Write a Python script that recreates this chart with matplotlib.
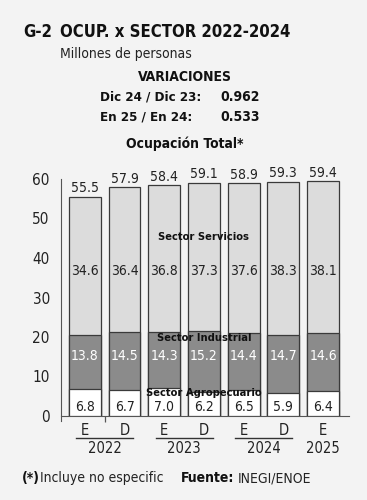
import numpy as np
import matplotlib.pyplot as plt
from matplotlib import font_manager

# Datos (millones de personas)
periodos = ['E', 'D', 'E', 'D', 'E', 'D', 'E']
anios = ['2022', '2023', '2024', '2025']
total = [55.5, 57.9, 58.4, 59.1, 58.9, 59.3, 59.4]
servicios = [34.6, 36.4, 36.8, 37.3, 37.6, 38.3, 38.1]
industrial = [13.8, 14.5, 14.3, 15.2, 14.4, 14.7, 14.6]
agro = [6.8, 6.7, 7.0, 6.2, 6.5, 5.9, 6.4]

# Fuente condensada si existe
cond = [f.name for f in font_manager.fontManager.ttflist
        if str(f.stretch) in ('condensed', 'semi-condensed', '87.5', '75')
        or 'Narrow' in f.name or 'Condensed' in f.name]
if cond:
    plt.rcParams['font.family'] = [cond[0], 'DejaVu Sans']
    plt.rcParams['font.stretch'] = 'condensed'
else:
    plt.rcParams['font.family'] = ['Roboto', 'DejaVu Sans']

bg = '#f3f3f3'
c_serv, c_ind, c_agro, c_edge = '#dcdcdc', '#8b8b8b', '#ffffff', '#3a3a3a'

fig = plt.figure(figsize=(3.67, 5.0), dpi=100)
fig.patch.set_facecolor(bg)
ax = fig.add_axes([0.166, 0.168, 0.785, 0.474])
ax.set_facecolor(bg)

x = np.arange(len(total))
w = 0.8
ind_top = np.array(agro) + np.array(industrial)
ax.bar(x, total, w, color=c_serv, edgecolor=c_edge, linewidth=0.9, zorder=2)
ax.bar(x, ind_top, w, color=c_ind, edgecolor=c_edge, linewidth=0.9, zorder=3)
ax.bar(x, agro, w, color=c_agro, edgecolor=c_edge, linewidth=0.9, zorder=4)

for i in x:
    ax.text(i, total[i] + 0.4, f'{total[i]:.1f}', ha='center', va='bottom', fontsize=10, color='#222222', clip_on=False)
    ax.text(i, 36.6, f'{servicios[i]:.1f}', ha='center', va='center', fontsize=10, color='#222222', zorder=5)
    ax.text(i, 15.2, f'{industrial[i]:.1f}', ha='center', va='center', fontsize=10, color='white', zorder=5)
    ax.text(i, 0.4, f'{agro[i]:.1f}', ha='center', va='bottom', fontsize=10, color='#222222', zorder=5)

ax.text(3, 45.3, 'Sector Servicios', ha='center', va='center', fontsize=8, fontweight='bold', color='#111111', zorder=6)
ax.text(3, 19.7, 'Sector Industrial', ha='center', va='center', fontsize=8, fontweight='bold', color='#111111', zorder=6)
ax.text(3, 5.8, 'Sector Agropecuario', ha='center', va='center', fontsize=8, fontweight='bold', color='#111111', zorder=6)

ax.set_xlim(-0.605, 6.655)
ax.set_ylim(0, 60)
ax.set_yticks(np.arange(0, 61, 10))
ax.tick_params(axis='y', length=0, labelsize=11, colors='#222222', pad=8)
ax.set_xticks([0.5])
ax.set_xticklabels([''])
ax.tick_params(axis='x', length=4, width=0.9, color='#555555')
for s in ['top', 'right']:
    ax.spines[s].set_visible(False)
ax.spines['left'].set_color('#555555')
ax.spines['bottom'].set_color('#555555')
ax.spines['left'].set_bounds(-1.2, 60)

# Etiquetas del eje x
for i, p in enumerate(periodos):
    ax.text(i, -3.6, p, ha='center', va='center', fontsize=10.5, color='#222222', clip_on=False)
for j, a in enumerate(anios):
    if j < 3:
        xc = 2 * j + 0.5
        ax.plot([xc - 0.72, xc + 0.72], [-5.6, -5.6], color='#333333', lw=1.0, clip_on=False)
    else:
        xc = 6.0
    ax.text(xc, -8.2, a, ha='center', va='center', fontsize=10.5, color='#222222', clip_on=False)

# Textos superiores
fig.text(0.063, 0.936, 'G-2', fontsize=12, fontweight='bold', va='center', color='#111111')
fig.text(0.163, 0.936, 'OCUP. x SECTOR 2022-2024', fontsize=12, fontweight='bold', va='center', color='#111111')
fig.text(0.163, 0.892, 'Millones de personas', fontsize=10, va='center', color='#222222')
fig.text(0.504, 0.846, 'VARIACIONES', fontsize=10, fontweight='bold', ha='center', va='center', color='#111111')
fig.text(0.272, 0.806, 'Dic 24 / Dic 23:', fontsize=9.5, fontweight='bold', va='center', color='#111111')
fig.text(0.6, 0.806, '0.962', fontsize=10, fontweight='bold', va='center', color='#111111')
fig.text(0.272, 0.766, 'En 25 / En 24:', fontsize=9.5, fontweight='bold', va='center', color='#111111')
fig.text(0.6, 0.766, '0.533', fontsize=10, fontweight='bold', va='center', color='#111111')
fig.text(0.504, 0.712, 'Ocupación Total*', fontsize=10, fontweight='bold', ha='center', va='center', color='#111111')

# Pie
fig.text(0.06, 0.044, '(*)', fontsize=10, fontweight='bold', va='center', color='#111111')
fig.text(0.108, 0.044, 'Incluye no especific', fontsize=10, va='center', color='#222222')
fig.text(0.493, 0.044, 'Fuente:', fontsize=10, fontweight='bold', va='center', color='#111111')
fig.text(0.648, 0.044, 'INEGI/ENOE', fontsize=10, va='center', color='#222222')

fig.savefig('out.png', dpi=100, facecolor=bg)
